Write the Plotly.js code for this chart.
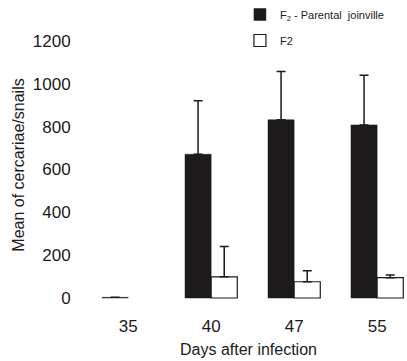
<!DOCTYPE html>
<html>
<head>
<meta charset="utf-8">
<script src="https://cdn.plot.ly/plotly-3.0.1.min.js"></script>
<style>html,body{margin:0;padding:0;background:#fff;}#chart{width:407px;height:361px;}</style>
</head>
<body>
<div id="chart"></div>
<script>
var categories = ['35', '40', '47', '55'];
var parentalMeans = [3, 671, 832, 808];
var parentalErrors = [0, 250, 225, 232];
var f2Means = [null, 99, 76, 95];
var f2Errors = [0, 141, 51, 12];
var seriesNames = ['F<sub>2</sub> - Parental  joinville', 'F2'];

var zeros = categories.map(function(){return 0;});
var font = 'Arial, "Liberation Sans", sans-serif';

var traces = [
  {
    type: 'bar', x: categories, y: parentalMeans, name: seriesNames[0],
    legendgroup: 'a',
    marker: {color: '#1c1a1b', line: {color: '#1c1a1b', width: 0.5}},
    error_y: {type: 'data', array: parentalErrors, arrayminus: zeros, symmetric: false,
              color: '#1c1a1b', thickness: 1.5, width: 4.5},
    hoverinfo: 'none'
  },
  {
    type: 'bar', x: categories, y: f2Means, name: seriesNames[1],
    legendgroup: 'b',
    marker: {color: '#ffffff', line: {color: '#1c1a1b', width: 1.2}},
    error_y: {type: 'data', array: f2Errors, arrayminus: zeros, symmetric: false,
              color: '#1c1a1b', thickness: 1.5, width: 4.5},
    hoverinfo: 'none'
  }
];

var layout = {
  width: 407, height: 361,
  margin: {l: 90, r: 0, t: 20, b: 51},
  paper_bgcolor: '#ffffff', plot_bgcolor: '#ffffff',
  font: {family: font, color: '#1c1a1b', size: 16},
  barmode: 'group', bargap: 0.37, bargroupgap: 0,
  showlegend: true,
  legend: {x: 0.473, xanchor: 'left', y: 1.07, yanchor: 'top',
           font: {size: 11, family: font, color: '#1c1a1b'},
           tracegroupgap: 7, bgcolor: 'rgba(0,0,0,0)'},
  xaxis: {type: 'category', range: [-0.46, 3.36], showgrid: false, zeroline: false,
          showline: false, ticks: 'outside', ticklen: 1, tickcolor: 'rgba(0,0,0,0)',
          tickfont: {size: 17},
          title: {text: 'Days after infection', font: {size: 16}, standoff: 8}},
  yaxis: {range: [-56, 1298], tickvals: [0, 200, 400, 600, 800, 1000, 1200],
          showgrid: false, zeroline: false, showline: false,
          ticks: 'outside', ticklen: 15, tickcolor: 'rgba(0,0,0,0)',
          tickfont: {size: 17},
          title: {text: 'Mean of cercariae/snails', font: {size: 16}, standoff: 4}}
};

Plotly.newPlot('chart', traces, layout, {displayModeBar: false, staticPlot: true});
</script>
</body>
</html>
